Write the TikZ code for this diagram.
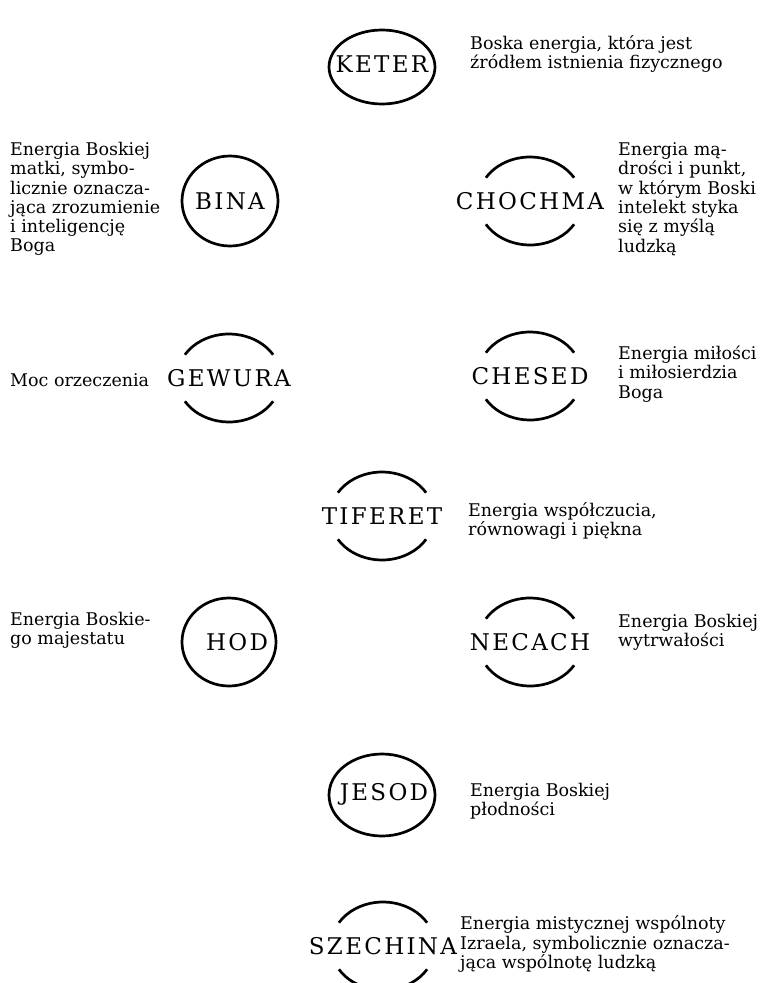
\documentclass[tikz,border=0pt]{standalone}
\usepackage{fontspec}
\setmainfont{DejaVu Serif}
\newfontfamily\labfamily[LetterSpace=10]{DejaVu Serif}
\begin{document}
\begin{tikzpicture}[x=1pt,y=1pt,
  desc/.style={anchor=west, align=left, inner sep=0pt, font=\fontsize{17.5}{19.3}\selectfont},
  lab/.style={inner sep=0pt, font=\labfamily\fontsize{23}{23}\selectfont},
  ring/.style={line width=2.7pt}]
\useasboundingbox (0,0) rectangle (769,-983);
\fill[white] (0,0) rectangle (769,-983);

% labels
\node[lab] (keter)    at (382,-64)  {KETER};
\node[lab] (bina)     at (230,-201) {BINA};
\node[lab] (chochma)  at (530,-201) {CHOCHMA};
\node[lab] (gewura)   at (229,-378) {GEWURA};
\node[lab] (chesed)   at (530,-376) {CHESED};
\node[lab] (tiferet)  at (382,-516) {TIFERET};
\node[lab] (hod)      at (237,-642) {HOD};
\node[lab] (necach)   at (530,-642) {NECACH};
\node[lab] (jesod)    at (384,-794) {JESOD};
\node[lab] (szechina) at (383,-946) {SZECHINA};

% full rings
\draw[ring] ([yshift=-3pt]keter.center) ellipse [x radius=53pt, y radius=37pt];
\draw[ring] (bina.center) ellipse [x radius=48pt, y radius=45pt];
\draw[ring] ([xshift=-8pt]hod.center) ellipse [x radius=47pt, y radius=44pt];
\draw[ring] ([xshift=-2pt,yshift=-1pt]jesod.center) ellipse [x radius=53pt, y radius=41pt];

% broken rings
\foreach \n in {chochma,gewura,chesed,tiferet,necach,szechina}{
  \draw[ring] (\n.center) ++(32:52pt and 44pt) arc[start angle=32, end angle=148, x radius=52pt, y radius=44pt];
  \draw[ring] (\n.center) ++(212:52pt and 44pt) arc[start angle=212, end angle=328, x radius=52pt, y radius=44pt];
}

% descriptions
\node[desc] (dketer) at (470,-54) {Boska energia, która jest\\źródłem istnienia fizycznego};
\node[desc] (dbina) at (10,-199) {Energia Boskiej\\matki, symbo-\\licznie oznacza-\\jąca zrozumienie\\i inteligencję\\Boga};
\node[desc] (dchochma) at (618,-199) {Energia mą-\\drości i punkt,\\w którym Boski\\intelekt styka\\się z myślą\\ludzką};
\node[desc] (dgewura) at (10,-380) {Moc orzeczenia};
\node[desc] (dchesed) at (618,-374) {Energia miłości\\i miłosierdzia\\Boga};
\node[desc] (dtiferet) at (468,-521) {Energia współczucia,\\równowagi i piękna};
\node[desc] (dhod) at (10,-630) {Energia Boskie-\\go majestatu};
\node[desc] (dnecach) at (618,-632) {Energia Boskiej\\wytrwałości};
\node[desc] (djesod) at (470,-801) {Energia Boskiej\\płodności};
\node[desc] (dszechina) at (460,-944) {Energia mistycznej wspólnoty\\Izraela, symbolicznie oznacza-\\jąca wspólnotę ludzką};
\end{tikzpicture}
\end{document}
